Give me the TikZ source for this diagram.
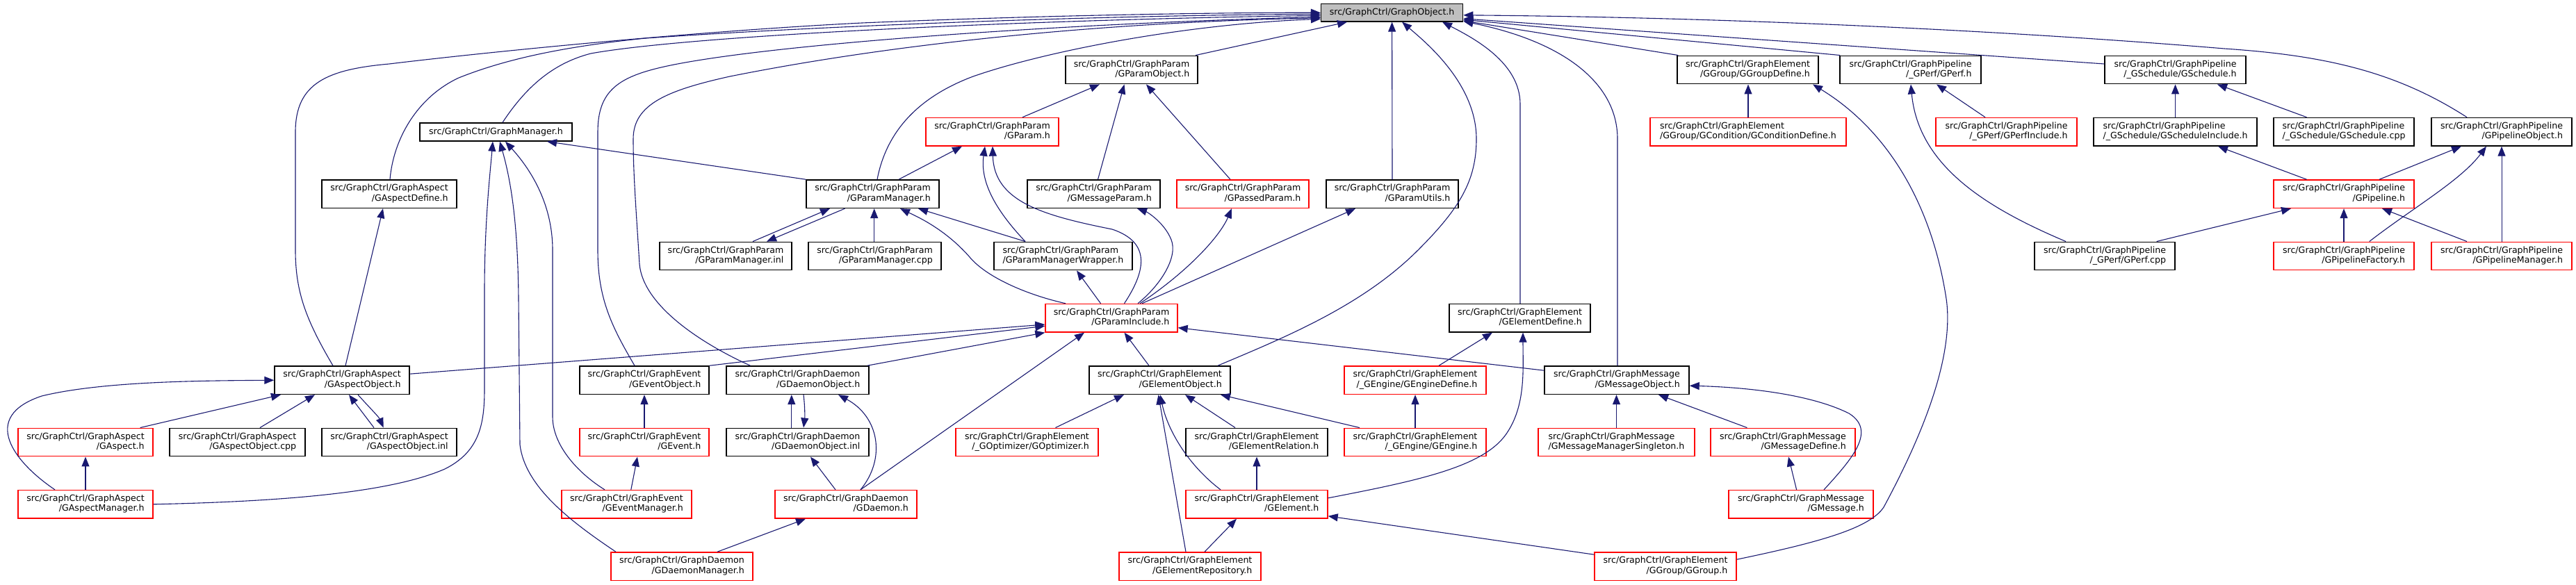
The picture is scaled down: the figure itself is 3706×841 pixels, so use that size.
\documentclass[tikz,border=0pt]{standalone}
\usepackage{fontspec}
\newfontfamily\dejavu{DejaVu Sans}
\usetikzlibrary{arrows.meta}
\definecolor{edgeblue}{HTML}{191970}
\definecolor{dxred}{HTML}{FF0000}
\definecolor{dxgray}{HTML}{BFBFBF}
\newcommand\lab[2]{\begin{tabular}{@{}l@{}}#1\\\hfill#2\hfill\end{tabular}}
\tikzset{
  bx/.style={draw=black, line width=1.4pt, fill=white, minimum height=40.5pt, inner xsep=2pt, inner ysep=0pt,
    font=\dejavu\fontsize{12.6}{14.5}\selectfont},
  rbx/.style={bx, draw=dxred},
  edge/.style={draw=edgeblue, line width=1.1pt, -{Triangle[length=14pt,width=11pt]}, fill=none}
}
\begin{document}
\begin{tikzpicture}[x=1pt,y=-1pt]
\useasboundingbox (0,0) rectangle (3706,841);
% row 0
\node[bx, fill=dxgray, minimum width=204pt, minimum height=25.3pt] (obj) at (2002.6,18.3) {src/GraphCtrl/GraphObject.h};
% row 1
\node[bx, minimum width=190pt] (pobj) at (1628,100.5) {\lab{src/GraphCtrl/GraphParam}{/GParamObject.h}};
\node[bx, minimum width=203pt] (gdef) at (2514.5,100.5) {\lab{src/GraphCtrl/GraphElement}{/GGroup/GGroupDefine.h}};
\node[bx, minimum width=203pt] (perf) at (2748.5,100.5) {\lab{src/GraphCtrl/GraphPipeline}{/\_GPerf/GPerf.h}};
\node[bx, minimum width=203pt] (sch) at (3129.5,100.5) {\lab{src/GraphCtrl/GraphPipeline}{/\_GSchedule/GSchedule.h}};
% row 2
\node[bx, minimum width=219pt, minimum height=26pt] (gm) at (713.5,190) {src/GraphCtrl/GraphManager.h};
\node[rbx, minimum width=191pt] (param) at (1427.5,189.7) {\lab{src/GraphCtrl/GraphParam}{/GParam.h}};
\node[rbx, minimum width=282pt] (cond) at (2515,189.7) {\lab{src/GraphCtrl/GraphElement}{/GGroup/GCondition/GConditionDefine.h}};
\node[rbx, minimum width=203pt] (perfinc) at (2886.5,189.7) {\lab{src/GraphCtrl/GraphPipeline}{/\_GPerf/GPerfInclude.h}};
\node[bx, minimum width=235pt] (schinc) at (3129.5,189.7) {\lab{src/GraphCtrl/GraphPipeline}{/\_GSchedule/GScheduleInclude.h}};
\node[bx, minimum width=202pt] (schcpp) at (3372,189.7) {\lab{src/GraphCtrl/GraphPipeline}{/\_GSchedule/GSchedule.cpp}};
\node[bx, minimum width=202pt] (pipeobj) at (3599,189.7) {\lab{src/GraphCtrl/GraphPipeline}{/GPipelineObject.h}};
% row 3
\node[bx, minimum width=194pt] (adef) at (560,279.2) {\lab{src/GraphCtrl/GraphAspect}{/GAspectDefine.h}};
\node[bx, minimum width=191pt] (pm) at (1255.5,279.2) {\lab{src/GraphCtrl/GraphParam}{/GParamManager.h}};
\node[bx, minimum width=191pt] (mparam) at (1573.5,279.2) {\lab{src/GraphCtrl/GraphParam}{/GMessageParam.h}};
\node[rbx, minimum width=190pt] (passed) at (1788,279.2) {\lab{src/GraphCtrl/GraphParam}{/GPassedParam.h}};
\node[bx, minimum width=190pt] (putil) at (2003,279.2) {\lab{src/GraphCtrl/GraphParam}{/GParamUtils.h}};
\node[rbx, minimum width=202pt] (pipe) at (3372,279.2) {\lab{src/GraphCtrl/GraphPipeline}{/GPipeline.h}};
% row 4
\node[bx, minimum width=190pt] (pminl) at (1044,368.5) {\lab{src/GraphCtrl/GraphParam}{/GParamManager.inl}};
\node[bx, minimum width=191pt] (pmcpp) at (1258.5,368.5) {\lab{src/GraphCtrl/GraphParam}{/GParamManager.cpp}};
\node[bx, minimum width=199pt] (pmw) at (1529.5,368.5) {\lab{src/GraphCtrl/GraphParam}{/GParamManagerWrapper.h}};
\node[bx, minimum width=202pt] (perfcpp) at (3028,368.5) {\lab{src/GraphCtrl/GraphPipeline}{/\_GPerf/GPerf.cpp}};
\node[rbx, minimum width=202pt] (pfac) at (3372,368.5) {\lab{src/GraphCtrl/GraphPipeline}{/GPipelineFactory.h}};
\node[rbx, minimum width=202pt] (pman) at (3599,368.5) {\lab{src/GraphCtrl/GraphPipeline}{/GPipelineManager.h}};
% row 5
\node[rbx, minimum width=190pt] (pinc) at (1599,457.7) {\lab{src/GraphCtrl/GraphParam}{/GParamInclude.h}};
\node[bx, minimum width=203pt] (edef) at (2186.5,457.7) {\lab{src/GraphCtrl/GraphElement}{/GElementDefine.h}};
% row 6
\node[bx, minimum width=194pt] (aobj) at (492,547.2) {\lab{src/GraphCtrl/GraphAspect}{/GAspectObject.h}};
\node[bx, minimum width=186pt] (eobj) at (927,547.2) {\lab{src/GraphCtrl/GraphEvent}{/GEventObject.h}};
\node[bx, minimum width=205pt] (dobj) at (1147.5,547.2) {\lab{src/GraphCtrl/GraphDaemon}{/GDaemonObject.h}};
\node[bx, minimum width=203pt] (elobj) at (1668.5,547.2) {\lab{src/GraphCtrl/GraphElement}{/GElementObject.h}};
\node[rbx, minimum width=204pt] (engdef) at (2036,547.2) {\lab{src/GraphCtrl/GraphElement}{/\_GEngine/GEngineDefine.h}};
\node[bx, minimum width=208pt] (mobj) at (2326,547.2) {\lab{src/GraphCtrl/GraphMessage}{/GMessageObject.h}};
% row 7
\node[rbx, minimum width=194pt] (asp) at (123,636.5) {\lab{src/GraphCtrl/GraphAspect}{/GAspect.h}};
\node[bx, minimum width=195pt] (aocpp) at (341.5,636.5) {\lab{src/GraphCtrl/GraphAspect}{/GAspectObject.cpp}};
\node[bx, minimum width=194pt] (aoinl) at (560,636.5) {\lab{src/GraphCtrl/GraphAspect}{/GAspectObject.inl}};
\node[rbx, minimum width=186pt] (ev) at (927,636.5) {\lab{src/GraphCtrl/GraphEvent}{/GEvent.h}};
\node[bx, minimum width=205pt] (doinl) at (1147.5,636.5) {\lab{src/GraphCtrl/GraphDaemon}{/GDaemonObject.inl}};
\node[rbx, minimum width=205pt] (opt) at (1477.5,636.5) {\lab{src/GraphCtrl/GraphElement}{/\_GOptimizer/GOptimizer.h}};
\node[bx, minimum width=204pt] (erel) at (1808,636.5) {\lab{src/GraphCtrl/GraphElement}{/GElementRelation.h}};
\node[rbx, minimum width=204pt] (eng) at (2036,636.5) {\lab{src/GraphCtrl/GraphElement}{/\_GEngine/GEngine.h}};
\node[rbx, minimum width=225pt] (mms) at (2325.5,636.5) {\lab{src/GraphCtrl/GraphMessage}{/GMessageManagerSingleton.h}};
\node[rbx, minimum width=208pt] (mdef) at (2565,636.5) {\lab{src/GraphCtrl/GraphMessage}{/GMessageDefine.h}};
% row 8
\node[rbx, minimum width=194pt] (aman) at (123,725.8) {\lab{src/GraphCtrl/GraphAspect}{/GAspectManager.h}};
\node[rbx, minimum width=187pt] (evman) at (901.5,725.8) {\lab{src/GraphCtrl/GraphEvent}{/GEventManager.h}};
\node[rbx, minimum width=204pt] (dae) at (1217,725.8) {\lab{src/GraphCtrl/GraphDaemon}{/GDaemon.h}};
\node[rbx, minimum width=204pt] (el) at (1808,725.8) {\lab{src/GraphCtrl/GraphElement}{/GElement.h}};
\node[rbx, minimum width=208pt] (msg) at (2591,725.8) {\lab{src/GraphCtrl/GraphMessage}{/GMessage.h}};
% row 9
\node[rbx, minimum width=204pt] (daeman) at (981,815.2) {\lab{src/GraphCtrl/GraphDaemon}{/GDaemonManager.h}};
\node[rbx, minimum width=204pt] (erepo) at (1712,815.2) {\lab{src/GraphCtrl/GraphElement}{/GElementRepository.h}};
\node[rbx, minimum width=204pt] (grp) at (2396,815.2) {\lab{src/GraphCtrl/GraphElement}{/GGroup/GGroup.h}};

% ---- edges into GraphObject.h
\draw[edge] ([xshift=-13pt]aobj.north) .. controls (440,460) and (425,420) .. (425,360) -- (425,190) .. controls (425,120) and (470,100) .. (560,92) .. controls (700,75) and (1000,45) .. (1240,33) .. controls (1500,22) and (1750,18) .. (obj.west);
\draw[edge] ([xshift=1pt]adef.north) .. controls (566,200) and (600,140) .. (660,112) .. controls (720,88) and (800,68) .. (929,55) .. controls (1200,36) and (1600,22) .. ([yshift=-2pt]obj.west);
\draw[edge] ([xshift=9.5pt]gm.north) .. controls (760,120) and (800,90) .. (850,77) .. controls (1000,50) and (1500,28) .. ([yshift=-4pt]obj.west);
\draw[edge] ([xshift=-14pt]eobj.north) .. controls (880,470) and (860,430) .. (860,360) -- (860,190) .. controls (860,130) and (890,110) .. (960,95) .. controls (1100,65) and (1500,35) .. ([yshift=-6pt]obj.west);
\draw[edge] ([xshift=-68pt]dobj.north) .. controls (1010,495) and (925,440) .. (920,380) .. controls (915,300) and (911,250) .. (911,200) .. controls (911,150) and (960,130) .. (1050,110) .. controls (1300,60) and (1600,32) .. ([yshift=-7.5pt]obj.west);
\draw[edge] ([xshift=6.5pt]pm.north) .. controls (1275,190) and (1320,140) .. (1400,110) .. controls (1500,75) and (1700,35) .. ([yshift=-9pt]obj.west);
\draw[edge] ([xshift=92pt]pobj.north) -- ([xshift=-64.6pt]obj.south);
\draw[edge] (putil.north) -- (obj.south);
\draw[edge] ([xshift=83.5pt]elobj.north) .. controls (1850,485) and (1960,440) .. (2040,360) .. controls (2100,300) and (2124,260) .. (2124,200) .. controls (2124,120) and (2050,60) .. ([xshift=14.5pt]obj.south);
\draw[edge] ([xshift=0.5pt]edef.north) -- (2187,150) .. controls (2187,90) and (2120,55) .. ([xshift=72.4pt]obj.south);
\draw[edge] ([xshift=1pt]mobj.north) -- (2327,200) .. controls (2327,120) and (2250,60) .. ([yshift=1pt]obj.south east);
\draw[edge] ([xshift=2pt]gdef.north west) -- ([yshift=-11.5pt]obj.east);
\draw[edge] ([xshift=1pt]perf.north west) -- ([yshift=-10pt]obj.east);
\draw[edge] ([yshift=8.5pt]sch.west) -- ([yshift=-8.5pt]obj.east);
\draw[edge] ([xshift=-50pt]pipeobj.north) .. controls (3450,105) and (3350,80) .. (3200,70) .. controls (2900,45) and (2500,25) .. ([yshift=-3.5pt]obj.east);

% ---- GraphParam
\draw[edge] ([xshift=43.5pt]param.north) -- ([xshift=-46pt]pobj.south);
\draw[edge] ([xshift=6pt]mparam.north) -- ([xshift=-10.5pt]pobj.south);
\draw[edge] ([xshift=-18pt]passed.north) -- ([xshift=21pt]pobj.south);
\draw[edge] ([xshift=37.5pt]pm.north) -- ([xshift=-43.5pt]param.south);
\draw[edge] ([xshift=-54.5pt]pmw.north) .. controls (1430,300) and (1410,260) .. ([xshift=-10.5pt]param.south);
\draw[edge] ([xshift=18.5pt]pinc.north) .. controls (1645,395) and (1660,350) .. (1600,330) .. controls (1500,310) and (1430,290) .. ([xshift=0.5pt]param.south);
\draw[edge] ([xshift=39pt]pminl.north) -- ([xshift=-61.5pt]pm.south);
\draw[edge] ([xshift=-40pt]pm.south) -- ([xshift=59pt]pminl.north);
\draw[edge] ([xshift=-0.8pt]pmcpp.north) -- ([xshift=2.2pt]pm.south);
\draw[edge] ([xshift=-66pt]pinc.north) .. controls (1480,425) and (1420,400) .. (1395,370) .. controls (1360,330) and (1320,312) .. ([xshift=39.5pt]pm.south);
\draw[edge] ([xshift=-54.5pt]pmw.north) -- ([xshift=65.5pt]pm.south);
\draw[edge] ([xshift=-15.5pt]pinc.north) -- ([xshift=19.5pt]pmw.south);
\draw[edge] ([xshift=38pt]pinc.north) .. controls (1670,410) and (1695,370) .. (1685,345) .. controls (1675,320) and (1650,305) .. ([xshift=62.5pt]mparam.south);
\draw[edge] ([xshift=41pt]pinc.north) .. controls (1710,390) and (1755,340) .. ([xshift=-16pt]passed.south);
\draw[edge] ([xshift=44pt]pinc.north) -- ([xshift=-53pt]putil.south);

% ---- GraphManager
\draw[edge] (pm.north west) -- ([xshift=73.5pt]gm.south);
\draw[edge] (aman.east) .. controls (400,722) and (560,710) .. (640,675) .. controls (690,650) and (697,610) .. (697,560) -- (697,420) .. controls (697,320) and (705,250) .. ([xshift=-4.5pt]gm.south);
\draw[edge] ([xshift=-95pt]daeman.north) .. controls (820,750) and (755,700) .. (748,640) -- (746,430) .. controls (745,320) and (735,260) .. ([xshift=5.5pt]gm.south);
\draw[edge] ([xshift=-31.5pt]evman.north) .. controls (830,680) and (795,640) .. (795,600) -- (795,360) .. controls (795,290) and (760,240) .. ([xshift=13.5pt]gm.south);

% ---- GraphAspect
\draw[edge] ([xshift=5pt]aobj.north) -- ([xshift=-9pt]adef.south);
\draw[edge] ([xshift=-44pt]aman.north) .. controls (20,665) and (-30,600) .. (60,570) .. controls (150,548) and (300,548) .. (aobj.west);
\draw[edge] ([xshift=78.7pt]asp.north) -- ([xshift=-88pt]aobj.south);
\draw[edge] ([xshift=32.5pt]aocpp.north) -- ([xshift=-39pt]aobj.south);
\draw[edge] ([xshift=-22pt]aoinl.north) -- ([xshift=10pt]aobj.south);
\draw[edge] ([xshift=23pt]aobj.south) .. controls (530,585) and (545,600) .. ([xshift=-8.3pt]aoinl.north);
\draw[edge] (aman.north) -- (asp.south);

% ---- into GParamInclude.h
\draw[edge] ([yshift=9pt]aobj.east) -- ([yshift=-9.3pt]pinc.west);
\draw[edge] (eobj.north east) -- ([yshift=-11.5pt]pinc.west);
\draw[edge] ([xshift=-3pt]dobj.north east) -- (pinc.south west);
\draw[edge] ([xshift=21pt]dae.north) -- ([xshift=-39pt]pinc.south);
\draw[edge] ([xshift=-15.5pt]elobj.north) -- ([xshift=18.5pt]pinc.south);
\draw[edge] ([yshift=14pt]mobj.west) -- ([yshift=-14pt]pinc.east);

% ---- GraphEvent / GraphDaemon
\draw[edge] (ev.north) -- (eobj.south);
\draw[edge] ([xshift=6.3pt]evman.north) -- ([xshift=-10pt]ev.south);
\draw[edge] ([xshift=-8.7pt]doinl.north) -- ([xshift=-8.7pt]dobj.south);
\draw[edge] ([xshift=8.5pt]dobj.south) .. controls (1158,585) and (1158,600) .. ([xshift=8.5pt]doinl.north);
\draw[edge] ([xshift=21pt]dae.north) .. controls (1275,660) and (1265,600) .. ([xshift=58.5pt]dobj.south);
\draw[edge] ([xshift=-15pt]dae.north) -- ([xshift=18.5pt]doinl.south);
\draw[edge] ([xshift=51pt]daeman.north) -- ([xshift=-58pt]dae.south);

% ---- GraphElement
\draw[edge] ([xshift=41pt]opt.north) -- ([xshift=-51.5pt]elobj.south);
\draw[edge] ([xshift=-6pt]erepo.north) -- ([xshift=-2pt]elobj.south);
\draw[edge] ([xshift=-52pt]el.north) .. controls (1710,670) and (1680,620) .. ([xshift=0.5pt]elobj.south);
\draw[edge] ([xshift=-31pt]erel.north) -- ([xshift=36.5pt]elobj.south);
\draw[edge] ([xshift=-80pt]eng.north) -- ([xshift=87.5pt]elobj.south);
\draw[edge] (el.north) -- (erel.south);
\draw[edge] ([xshift=21pt]erepo.north) -- ([xshift=-29pt]el.south);
\draw[edge] ([yshift=17pt]grp.west) -- ([yshift=-17pt]el.east);
\draw[edge] ([yshift=9pt]el.east) .. controls (2050,690) and (2140,670) .. (2170,620) .. controls (2195,580) and (2191,530) .. ([xshift=4.5pt]edef.south);
\draw[edge] ([xshift=34pt]engdef.north) -- ([xshift=-39.5pt]edef.south);
\draw[edge] (eng.north) -- (engdef.south);
\draw[edge] (cond.north) -- ([xshift=0.5pt]gdef.south);
\draw[edge] ([yshift=10pt]grp.east) .. controls (2620,780) and (2690,760) .. (2710,730) .. controls (2780,600) and (2810,500) .. (2800,430) .. controls (2780,300) and (2720,190) .. ([xshift=93.5pt]gdef.south);

% ---- GraphMessage
\draw[edge] (mms.north) -- ([xshift=-0.5pt]mobj.south);
\draw[edge] ([xshift=-51.6pt]mdef.north) -- ([xshift=60pt]mobj.south);
\draw[edge] ([xshift=33pt]msg.north) .. controls (2665,660) and (2700,620) .. (2660,595) .. controls (2600,565) and (2500,557) .. ([yshift=-8pt]mobj.east);
\draw[edge] ([xshift=-6.4pt]msg.north) -- ([xshift=8pt]mdef.south);

% ---- GraphPipeline
\draw[edge] ([xshift=-56pt]perfcpp.north) .. controls (2860,300) and (2760,240) .. ([xshift=0.5pt]perf.south);
\draw[edge] ([xshift=-30.5pt]perfinc.north) -- ([xshift=37.5pt]perf.south);
\draw[edge] (schinc.north) -- (sch.south);
\draw[edge] ([xshift=-53.5pt]schcpp.north) -- ([xshift=60.5pt]sch.south);
\draw[edge] ([xshift=-53.5pt]pipe.north) -- ([xshift=61.5pt]schinc.south);
\draw[edge] ([xshift=51pt]pipe.north) -- ([xshift=-58pt]pipeobj.south);
\draw[edge] ([xshift=36.7pt]pfac.north) .. controls (3470,300) and (3540,260) .. ([xshift=-22pt]pipeobj.south);
\draw[edge] (pman.north) -- (pipeobj.south);
\draw[edge] ([xshift=74.6pt]perfcpp.north) -- ([xshift=-76pt]pipe.south);
\draw[edge] (pfac.north) -- (pipe.south);
\draw[edge] ([xshift=-50pt]pman.north) -- ([xshift=55pt]pipe.south);
\end{tikzpicture}
\end{document}
